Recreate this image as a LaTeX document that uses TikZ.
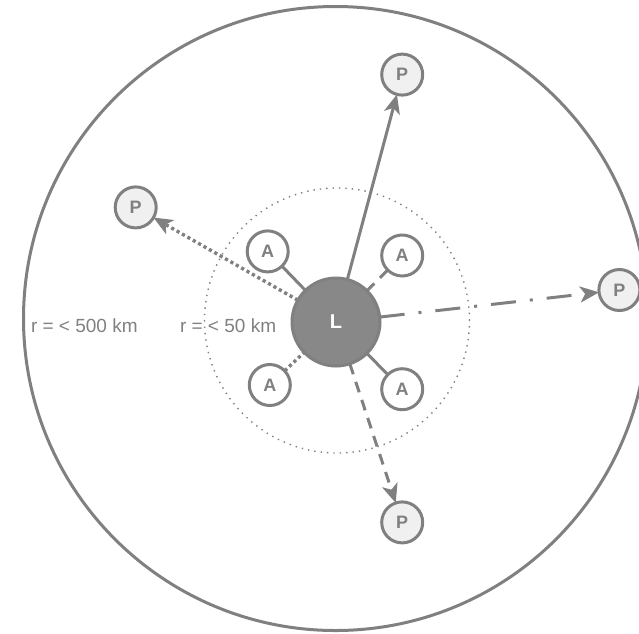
\documentclass[tikz,border=0pt]{standalone}
\usepackage{fontspec}
\setmainfont{Liberation Sans}
\usetikzlibrary{arrows.meta}
\definecolor{sg}{RGB}{128,128,128}
\definecolor{lfill}{RGB}{136,136,136}
\definecolor{pfill}{RGB}{240,240,240}
\begin{document}
\begin{tikzpicture}[x=1pt,y=-1pt,
 every node/.style={inner sep=0pt, outer sep=0pt},
 anode/.style={circle, draw=sg, line width=3pt, fill=white, minimum size=41pt, text=sg, font=\bfseries\fontsize{18}{18}\selectfont},
 pnode/.style={anode, fill=pfill},
 lnode/.style={circle, draw=sg, line width=3pt, fill=lfill, minimum size=88pt, text=white, font=\bfseries\fontsize{20}{20}\selectfont},
 conn/.style={draw=sg, line width=3pt},
 arr/.style={conn, -{Stealth[length=19pt,width=16pt,inset=5pt]}},
 lbl/.style={text=sg, font=\fontsize{19}{19}\selectfont, anchor=base west},
 dotline/.style={line width=3.4pt, dash pattern=on 3.2pt off 3pt},
 dashline/.style={dash pattern=on 11pt off 8pt},
 dashdotline/.style={dash pattern=on 25pt off 14pt on 3pt off 14pt},
]
\useasboundingbox (0,0) rectangle (639,633);
\clip (0,0) rectangle (639,633);
\draw[sg, line width=3pt] (335.5,318.5) circle[radius=312pt];
\draw[sg, line width=1.4pt, dash pattern=on 1.4pt off 5pt] (337,320.5) circle[radius=132.5pt];
\node[lbl] (t500) at (31,332) {r = < 500 km};
\node[lbl] (t50) at (180,332) {r = < 50 km};
\node[lnode] (L) at (336,322) {L};
\node[anode] (A1) at (267.7,251.4) {A};
\node[anode] (A2) at (402.2,255.5) {A};
\node[anode] (A3) at (269.8,385) {A};
\node[anode] (A4) at (402.2,389.2) {A};
\node[pnode] (P1) at (402.2,74.6) {P};
\node[pnode] (P2) at (135.7,207.4) {P};
\node[pnode] (P3) at (619.4,290) {P};
\node[pnode] (P4) at (402.2,522.4) {P};
\draw[arr] (L) -- (P1);
\draw[arr, dotline] (L) -- (P2);
\draw[arr, dashdotline] (L) -- (P3);
\draw[arr, dashline] (L) -- (P4);
\draw[conn] (A1) -- (L);
\draw[conn, dashline] (A2) -- (L);
\draw[conn, dotline] (A3) -- (L);
\draw[conn] (A4) -- (L);
\end{tikzpicture}
\end{document}
